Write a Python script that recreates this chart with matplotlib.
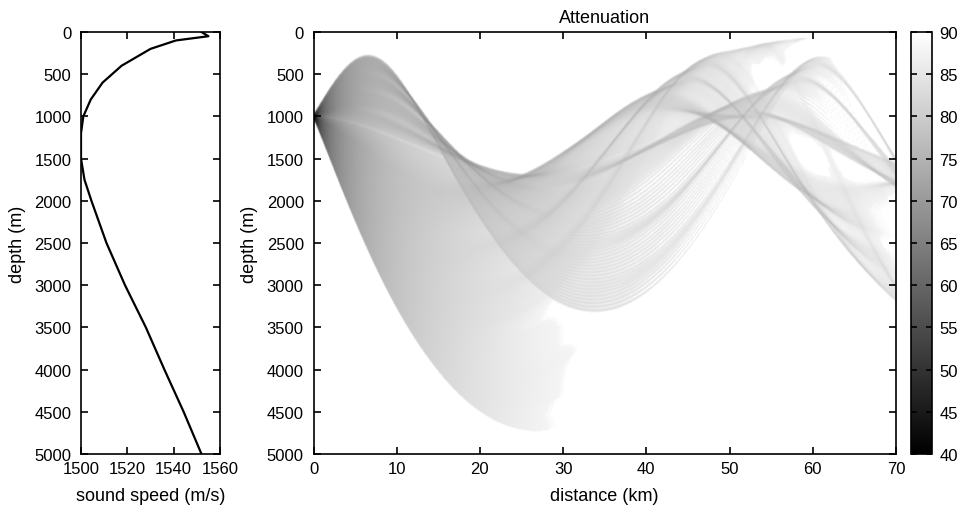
import matplotlib
matplotlib.use("Agg")
import matplotlib.pyplot as plt
import numpy as np

plt.rcParams['font.family'] = ['Liberation Sans', 'DejaVu Sans']

# sound speed profile
depth_m = [0, 50, 100, 200, 400, 600, 800, 1000, 1200, 1500, 1750,
           2000, 2500, 3000, 3500, 4000, 4500, 5000]
speed_ms = [1552, 1555, 1541, 1530, 1517.5, 1509.3, 1504.2, 1501, 1500, 1500, 1501.5,
            1504.5, 1511, 1519, 1528, 1536, 1544.3, 1552]

# ray fan (source and launch angles, degrees, + is upward)
source_depth = 1000.0
up_deg = np.linspace(0.1, 10.0, 60)
down_deg = -np.linspace(0.1, 14.1, 250)
down_gain = 1.1       # relative weight of the downward rays
flat_deg = 3.0        # near-horizontal rays are weighted down
max_range_km = 70.0
absorption = 0.03     # dB/km
tl_offset = -1.3
tl_cut = 88.0         # weaker than this is left blank

depth_ticks = np.arange(0, 5001, 500)
speed_ticks = [1500, 1520, 1540, 1560]
dist_ticks = np.arange(0, 71, 10)
tl_ticks = np.arange(40, 91, 5)

# --- ray tracing through the profile ---
zf = np.arange(0, 5001, 5.0)
cf = np.interp(zf, depth_m, speed_ms)
win = 31
cf = np.convolve(np.pad(cf, win // 2, mode='edge'), np.ones(win) / win, mode='valid')
dcf = np.gradient(cf, zf)

deg = np.concatenate([up_deg, down_deg])
angles = np.radians(deg)
weights = np.concatenate([np.full(up_deg.size, np.radians(10.0) / up_deg.size),
                          np.full(down_deg.size, down_gain * np.radians(14.1) / down_deg.size)])
weights *= 0.45 + 0.55 * np.clip(np.abs(deg) / flat_deg, 0, 1)
c0 = np.interp(source_depth, zf, cf)
xi = np.cos(angles) / c0
zeta = -np.sin(angles) / c0          # depth positive downward
r = np.zeros(angles.size)
z = np.full(angles.size, source_depth)
ds = 20.0
hist_r = [r.copy()]
hist_z = [z.copy()]
while r.min() < max_range_km * 1000 + 200:
    c = np.interp(z, zf, cf)
    g = np.interp(z, zf, dcf)
    zm = z + 0.5 * ds * c * zeta
    zetam = zeta - 0.5 * ds * g / c**2
    cm = np.interp(zm, zf, cf)
    gm = np.interp(zm, zf, dcf)
    r = r + ds * cm * xi
    z = z + ds * cm * zetam
    zeta = zeta - ds * gm / cm**2
    up = z < 0
    z[up] = -z[up]; zeta[up] = -zeta[up]
    dn = z > 5000
    z[dn] = 10000 - z[dn]; zeta[dn] = -zeta[dn]
    hist_r.append(r.copy())
    hist_z.append(z.copy())
hist_r = np.array(hist_r)
hist_z = np.array(hist_z)

rg = np.arange(0.05, max_range_km, 0.1)
zg = np.arange(0, 5001, 10.0)
sigma = 12.0
field = np.zeros((zg.size, rg.size))
for k in range(angles.size):
    zk = np.interp(rg * 1000, hist_r[:, k], hist_z[:, k])
    field += weights[k] * np.exp(-(zg[:, None] - zk[None, :])**2 / (2 * sigma**2)) / (np.sqrt(2 * np.pi) * sigma)
field /= rg[None, :] * 1000
with np.errstate(divide='ignore'):
    tl = -10 * np.log10(field) + tl_offset + absorption * rg[None, :]
tl = np.nan_to_num(tl, posinf=100)
tl[tl > tl_cut] = 100

# --- figure ---
fig = plt.figure(figsize=(9.58, 5.10), dpi=100)
ax1 = fig.add_axes([81 / 958, 55 / 510, 139 / 958, 422 / 510])
ax2 = fig.add_axes([313.5 / 958, 55 / 510, 582.5 / 958, 422 / 510])
cax = fig.add_axes([910.7 / 958, 55 / 510, 21.5 / 958, 422 / 510])

ax1.plot(speed_ms, depth_m, color='black', lw=1.6)
ax1.set_xlim(1500, 1560)
ax1.set_ylim(5000, 0)
ax1.set_xticks(speed_ticks)
ax1.set_yticks(depth_ticks)
ax1.set_xlabel("sound speed (m/s)", fontsize=13, labelpad=8)
ax1.set_ylabel("depth (m)", fontsize=13, labelpad=6)

im = ax2.imshow(tl, extent=[0, max_range_km, 5000, 0], cmap='gray', vmin=40, vmax=90,
                aspect='auto', interpolation='bilinear')
ax2.set_xlim(0, 70)
ax2.set_ylim(5000, 0)
ax2.set_xticks(dist_ticks)
ax2.set_yticks(depth_ticks)
ax2.set_xlabel("distance (km)", fontsize=13, labelpad=8)
ax2.set_ylabel("depth (m)", fontsize=13, labelpad=6)
ax2.set_title("Attenuation", fontsize=13, pad=7)

cb = fig.colorbar(im, cax=cax)
cb.set_ticks(tl_ticks)
cb.outline.set_linewidth(1.2)
cax.tick_params(direction='in', left=True, right=True, length=4, width=1.2,
                labelsize=12, pad=5)

for ax in (ax1, ax2):
    ax.tick_params(direction='in', top=True, right=True, length=5, width=1.2, labelsize=12)
    ax.tick_params(axis='y', pad=7)
    ax.tick_params(axis='x', pad=5)
    for s in ax.spines.values():
        s.set_linewidth(1.2)

fig.savefig("out.png", dpi=100)
